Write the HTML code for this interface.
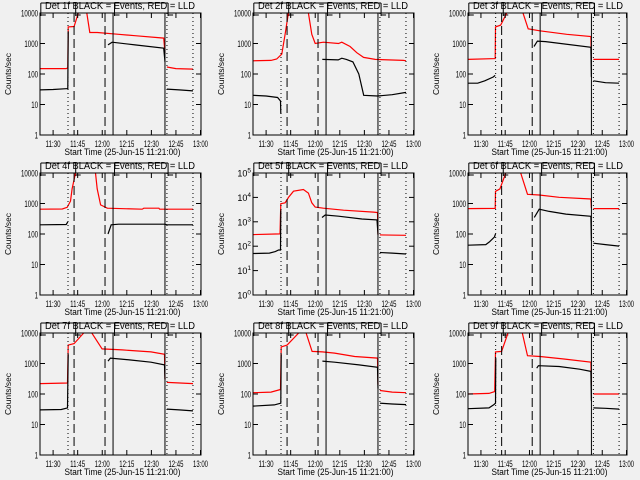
<!DOCTYPE html>
<html><head><meta charset="utf-8"><style>
html,body{margin:0;padding:0;background:#f0f0f0;}
svg{display:block;font-family:"Liberation Sans",sans-serif;}
</style></head><body>
<svg id="chart" width="640" height="480" viewBox="0 0 640 480">
<rect x="0" y="0" width="640" height="480" fill="#f0f0f0"/>
</svg>
<script>
const detNames = ["1f","2f","3f","4f","5f","6f","7f","8f","9f"];
const decades = [4,4,4,4,5,4,4,4,4];
const xTickTimes = [30,45,60,75,90,105,120];
const xTickLabels = ["11:30","11:45","12:00","12:15","12:30","12:45","13:00"];
const dottedTimes = [39.1,99.5,115.4];
const dashedTimes = [42.8,61.7];
const solidTimes = [66.6,98.3];
const bracketTimes = [22.5,43.8,67.5,100.2];

const p1Black = [[22,30],[30,31],[38,33],[39,33],[39.2,2500],null,[63.5,900],[66,1100],[80,900],[97.5,700],[98.3,250],null,[99.5,32],[107,30],[115.4,28]];
const p1Red = [[22,150],[38,150],[39,160],[39.2,3500],[42.8,3600],[45.4,10000],[47,20000],[49,20000],[50.6,10000],[52.4,2300],[57,2300],[70,2000],[80,1800],[97.5,1500],[98.3,500],null,[99.5,170],[105,150],[115.4,145]];
const p2Black = [[22,20],[30,19],[37,17],[38.8,13],[39,5],null,[64.3,300],[74,290],[76.2,330],[79,300],[83,250],[86.6,100],[89.6,20],[98,19],[107,21],[115.4,25]];
const p2Red = [[22,270],[33,280],[36.5,310],[39.6,450],[41.6,2000],[43.6,10000],[45,20000],[54,20000],[55.8,10000],[57.9,2000],[60,1000],[65,1100],[74.2,1000],[76.2,1100],[81.3,800],[85.4,500],[89.5,350],[96.6,300],[113.9,280],[115.4,270]];
const p3Black = [[22,50],[28,50],[32.4,60],[37.6,80],[38.8,90],null,[62.8,800],[64.9,1200],[70,1150],[98,750],[98.3,80],null,[99.5,60],[107,52],[115.4,50]];
const p3Red = [[22,300],[38.8,320],[39,3500],[42.2,4000],[45.9,10000],[47,20000],[54,20000],[56,10000],[59.2,3000],[66.4,2600],[83,2000],[98,1700],[98.3,300],null,[99.5,300],[115.4,300]];
const p4Black = [[22,200],[38,205],[39,250],null,[63.5,100],[65.5,200],[70,210],[98.3,210],[99.5,200],[115.4,200]];
const p4Red = [[22,650],[35.6,660],[38.6,750],[40.6,1200],[41.6,3000],[43.7,10000],[45,20000],[54,20000],[55.9,10000],[56.9,3000],[59,900],[63.1,700],[84.4,650],[85.4,700],[94.6,700],[95,650],[115.4,650]];
const p5Black = [[22,50],[32,52],[35.6,60],[37.6,70],[38.8,70],[39,3000],null,[64.1,1500],[66.1,1900],[74.2,1700],[88.5,1300],[97.7,1200],[98.3,300],null,[99.5,55],[107,52],[115.4,48]];
const p5Red = [[22,300],[38.5,320],[39,5500],[41.6,6000],[43.7,10000],[46.7,18000],[52.8,21000],[55.8,15000],[57.9,6000],[60,4000],[65,3600],[77.3,3000],[95.6,2500],[98,2400],[98.3,300],null,[99.5,290],[115.4,280]];
const p6Black = [[22,43],[33,45],[35.2,55],[38.3,80],[39,100],null,[63,350],[66,650],[72.2,550],[82.5,450],[98,380],[98.3,60],null,[99.5,50],[107,45],[115.4,40]];
const p6Red = [[22,680],[38.8,690],[39,2500],[41.7,3000],[45.4,10000],[47,20000],[53,20000],[54.6,10000],[58.8,2000],[66,1900],[78.3,1600],[98,1400],[98.3,700],null,[99.5,680],[115.4,680]];
const p7Black = [[22,30],[35,31],[38.8,35],[39.2,2000],null,[63.5,1200],[65,1500],[77.3,1300],[89.8,1100],[98,900],[98.3,300],null,[99.5,32],[107,30],[115.4,28]];
const p7Red = [[22,220],[38.8,230],[39.2,4000],[42.8,4500],[48.7,10000],[50,20000],[52,20000],[53.6,10000],[59.9,3000],[72.1,2800],[89.8,2400],[98,2000],[98.3,300],null,[99.5,240],[115.4,220]];
const p8Black = [[22,40],[35,44],[39,50],[39.2,2000],null,[64.4,1200],[71.9,1100],[86.7,900],[98,750],[98.3,150],null,[99.5,50],[107,47],[115.4,45]];
const p8Red = [[22,110],[33,115],[38.8,140],[39.2,3500],[42.8,4000],[49.9,10000],[51,20000],[53,20000],[54.4,10000],[58.1,2500],[64.4,2400],[71.8,2200],[84.1,1700],[98,1500],[98.3,200],null,[99.5,130],[107,115],[115.4,110]];
const p9Black = [[22,33],[35,35],[38,45],[39,50],[39.2,1500],null,[64.5,700],[65.5,850],[78.3,800],[91,650],[98,550],[98.3,60],null,[99.5,35],[107,34],[115.4,32]];
const p9Red = [[22,100],[35,105],[38.5,120],[39,2400],[42.8,2500],[46.7,10000],[48,20000],[54,20000],[55.6,10000],[58.8,1800],[66.5,1700],[81.3,1400],[98,1100],[98.3,200],null,[99.5,100],[115.4,100]];

const blackSeries = [p1Black,p2Black,p3Black,p4Black,p5Black,p6Black,p7Black,p8Black,p9Black];
const redSeries = [p1Red,p2Red,p3Red,p4Red,p5Red,p6Red,p7Red,p8Red,p9Red];

const NS = "http://www.w3.org/2000/svg";
const svg = document.getElementById('chart');
const COLS = [[40,201],[253,414],[468,627]];
const ROWS = [[13,135],[173,295],[333,455]];
const T0 = 22, T1 = 120.3;
function mk(tag, attrs, parent){ const e=document.createElementNS(NS,tag); for(const k in attrs) e.setAttribute(k,attrs[k]); (parent||svg).appendChild(e); return e; }

const defs = mk('defs',{});
for (let i=0;i<9;i++){
  const c=i%3, r=Math.floor(i/3);
  const L=COLS[c][0], R=COLS[c][1], T=ROWS[r][0], B=ROWS[r][1];
  const dec=decades[i];
  const xS = t => L + (t-T0)/(T1-T0)*(R-L);
  const yS = v => B - Math.log10(v)/dec*(B-T);
  const g = mk('g',{});
  
  
  const cp = mk('clipPath',{id:'clip'+i},defs);
  mk('rect',{x:L,y:T,width:R-L,height:B-T},cp);

  const title = mk('text',{x:L+5,y:T-4,'font-size':'10',fill:'#000',textLength:'150',lengthAdjust:'spacingAndGlyphs'},g);
  title.textContent = 'Det '+detNames[i]+' BLACK = Events, RED = LLD';
  
  

  const bx = bracketTimes.map(xS);
  const br = mk('path',{d:'M'+bx[0]+' '+(T-10)+' H'+bx[bx.length-1]+' '+bx.map(x=>'M'+x+' '+(T-10)+' V'+(T+3)+' M'+x+' '+(T+2)+' H'+(x+5)).join(' '),stroke:'#000','stroke-width':'1',fill:'none'},g);
  
  

  const clipG = mk('g',{'clip-path':'url(#clip'+i+')'},g);
  [[redSeries[i],'#ff0000','red-series-lld'],[blackSeries[i],'#000000','black-series-events']].forEach(([arr,col,name])=>{
    let d='', pen=false;
    arr.forEach(p=>{ if(p===null){pen=false;return;} d += (pen?'L':'M')+xS(p[0]).toFixed(1)+' '+yS(p[1]).toFixed(1)+' '; pen=true; });
    const pth = mk('path',{d:d,stroke:col,'stroke-width':'1.2',fill:'none'},clipG);
    
    
  });

  dottedTimes.forEach(t=>{ const ln=mk('line',{x1:xS(t),x2:xS(t),y1:T,y2:B,stroke:'#000','stroke-width':'1','stroke-dasharray':'1,3'},g);
      });
  dashedTimes.forEach(t=>{ const ln=mk('line',{x1:xS(t),x2:xS(t),y1:T,y2:B,stroke:'#000','stroke-width':'1','stroke-dasharray':'9,4'},g);
      });
  solidTimes.forEach(t=>{ const ln=mk('line',{x1:xS(t),x2:xS(t),y1:T,y2:B,stroke:'#000','stroke-width':'1'},g);
      });

  const box = mk('rect',{x:L,y:T,width:R-L,height:B-T,fill:'none',stroke:'#000','stroke-width':'1'},g);
  
  

  for(let k=0;k<=dec;k++){
    const y=yS(Math.pow(10,k));
    mk('line',{x1:L,x2:L+5,y1:y,y2:y,stroke:'#000'},g);
    mk('line',{x1:R-5,x2:R,y1:y,y2:y,stroke:'#000'},g);
    const tl = mk('text',{x:L-2,y:y+3.5,'text-anchor':'end','font-size':'9',fill:'#000'},g);
    if(dec===5){
      tl.appendChild(document.createTextNode('10'));
      const sp=mk('tspan',{dy:'-4','font-size':'6.5'},tl); sp.textContent=String(k);
    } else {
      const s=String(Math.pow(10,k));
      tl.textContent = s;
      tl.setAttribute('textLength', String(3.4*s.length));
      tl.setAttribute('lengthAdjust','spacingAndGlyphs');
    }
    
    
  }
  xTickTimes.forEach((t,k)=>{
    const x=xS(t);
    mk('line',{x1:x,x2:x,y1:B,y2:B-5,stroke:'#000'},g);
    mk('line',{x1:x,x2:x,y1:T,y2:T+5,stroke:'#000'},g);
    const tl = mk('text',{x:x-7.5,y:B+12,'font-size':'9',fill:'#000',textLength:'15',lengthAdjust:'spacingAndGlyphs'},g);
    tl.textContent = xTickLabels[k];
    
    
  });
  const xt = mk('text',{x:(L+R)/2+2-58,y:B+20,'font-size':'9',fill:'#000',textLength:'116',lengthAdjust:'spacingAndGlyphs'},g);
  xt.textContent='Start Time (25-Jun-15 11:21:00)';
  
  
  const yt = mk('text',{x:-21,y:0,'font-size':'8.5',fill:'#000',textLength:'42',lengthAdjust:'spacingAndGlyphs',transform:'translate('+(L-29)+','+((T+B)/2)+') rotate(-90)'},g);
  yt.textContent='Counts/sec';
  
  
}
</script>
</body></html>
